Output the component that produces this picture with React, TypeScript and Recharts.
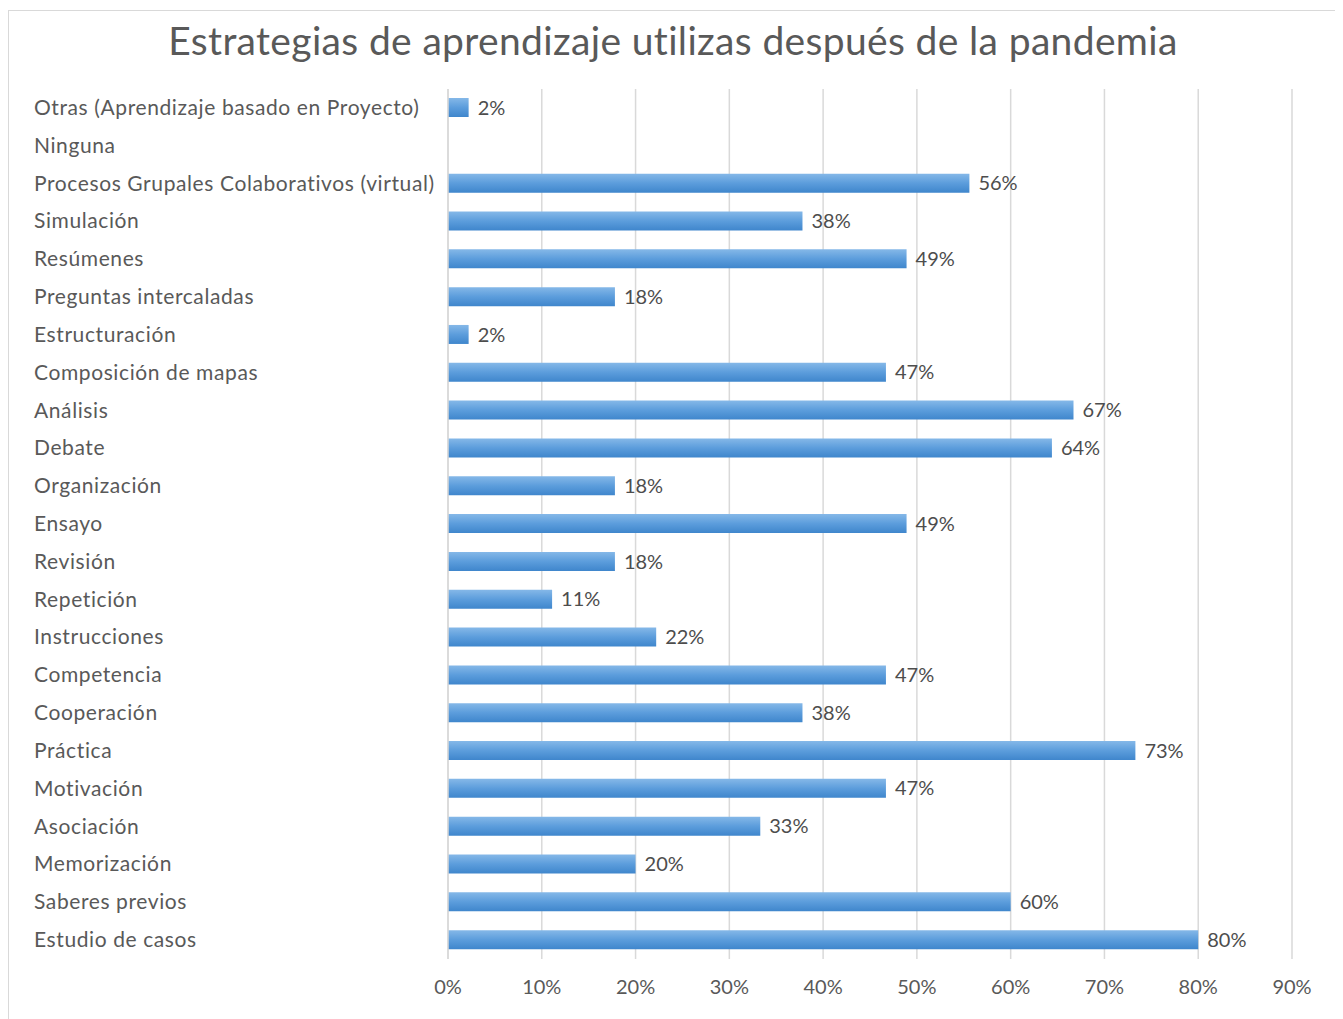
import React from 'react';
import { BarChart, Bar, XAxis, YAxis, CartesianGrid, LabelList } from 'recharts';

const categories: string[] = [
  'Otras (Aprendizaje basado en Proyecto)',
  'Ninguna',
  'Procesos Grupales Colaborativos (virtual)',
  'Simulación',
  'Resúmenes',
  'Preguntas intercaladas',
  'Estructuración',
  'Composición de mapas',
  'Análisis',
  'Debate',
  'Organización',
  'Ensayo',
  'Revisión',
  'Repetición',
  'Instrucciones',
  'Competencia',
  'Cooperación',
  'Práctica',
  'Motivación',
  'Asociación',
  'Memorización',
  'Saberes previos',
  'Estudio de casos',
];

const values: number[] = [
  2.2, 0, 55.6, 37.8, 48.9, 17.8, 2.2, 46.7, 66.7, 64.4, 17.8, 48.9, 17.8, 11.1, 22.2, 46.7, 37.8, 73.3, 46.7, 33.3, 20.0, 60.0, 80.0,
];

const xTicks: number[] = [0, 10, 20, 30, 40, 50, 60, 70, 80, 90];

const title = 'Estrategias de aprendizaje utilizas después de la pandemia';

const data = categories.map((name, i) => ({ name, value: values[i] }));

const FONT = 'Lato, "Open Sans", sans-serif';
const GRAY = '#595959';

const YTick = (props: any) => {
  const { y, payload } = props;
  return (
    <text x={25} y={y} dy={7} textAnchor="start" fontFamily={FONT} fontSize={21} letterSpacing={0.6} fill={GRAY}>
      {payload.value}
    </text>
  );
};

const fmt = (v: any) => {
  const n = Number(v);
  return n > 0 ? `${Math.round(n)}%` : '';
};

export default function App() {
  return (
    <div
      style={{
        position: 'relative',
        width: 1330,
        height: 1015,
        border: '1px solid #d9d9d9',
        boxSizing: 'border-box',
        marginTop: 2,
        background: '#fff',
      }}
    >
      <style>{`body{overflow:hidden}`}</style>
      <svg width={0} height={0} style={{ position: 'absolute' }}>
        <defs>
          <linearGradient id="barGrad" x1="0" y1="0" x2="0" y2="1">
            <stop offset="0%" stopColor="#85b8e8" />
            <stop offset="50%" stopColor="#5c9ddc" />
            <stop offset="100%" stopColor="#3f86cc" />
          </linearGradient>
        </defs>
      </svg>
      <div
        style={{
          position: 'absolute',
          top: 4,
          left: 0,
          width: 1328,
          textAlign: 'center',
          fontFamily: FONT,
          fontSize: 39,
          letterSpacing: 0.35,
          color: GRAY,
          lineHeight: '50px',
        }}
      >
        {title}
      </div>
      <BarChart
        width={1328}
        height={1010}
        data={data}
        layout="vertical"
        margin={{ top: 78, right: 45, bottom: 22, left: 0 }}
        barSize={19}
      >
        <CartesianGrid horizontal={false} vertical={true} stroke="#d9d9d9" strokeWidth={1.5} />
        <XAxis
          type="number"
          domain={[0, 90]}
          ticks={xTicks}
          tickFormatter={(v: number) => `${v}%`}
          axisLine={false}
          tickLine={false}
          height={40}
          tick={{ fontFamily: FONT, fontSize: 20, fill: GRAY }}
          tickMargin={15}
        />
        <YAxis
          type="category"
          dataKey="name"
          width={439}
          axisLine={{ stroke: '#d9d9d9', strokeWidth: 1.5 }}
          tickLine={false}
          tick={<YTick />}
        />
        <Bar dataKey="value" fill="url(#barGrad)" isAnimationActive={false}>
          <LabelList
            dataKey="value"
            position="right"
            offset={9}
            formatter={fmt}
            style={{ fontFamily: FONT, fontSize: 20, fill: '#4d4d4d' }}
          />
        </Bar>
      </BarChart>
    </div>
  );
}
